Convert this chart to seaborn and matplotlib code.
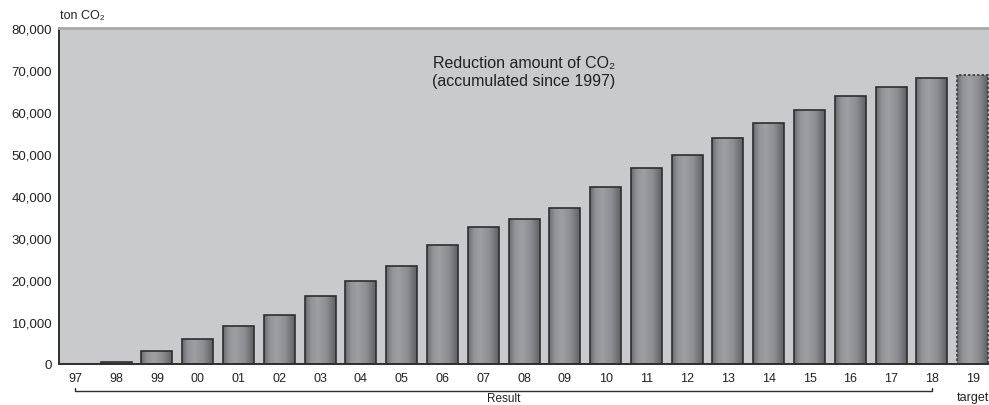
import numpy as np
import matplotlib
matplotlib.use("Agg")
import matplotlib.pyplot as plt
from matplotlib.colors import LinearSegmentedColormap
from matplotlib.ticker import FixedLocator, FuncFormatter
import seaborn as sns

# cumulative CO2 reduction, ton CO2 (19 = target)
years = ["97", "98", "99", "00", "01", "02", "03", "04", "05", "06", "07",
         "08", "09", "10", "11", "12", "13", "14", "15", "16", "17", "18", "19"]
reduction = [0, 500, 3200, 5900, 9000, 11700, 16200, 19700, 23300, 28300,
             32700, 34500, 37200, 42100, 46600, 49800, 53800, 57300, 60500,
             63700, 66000, 68100, 68700]
y_ticks = [0, 10000, 20000, 30000, 40000, 50000, 60000, 70000, 80000]

sns.set_style("white")
plt.rcParams["font.family"] = ["Liberation Sans", "DejaVu Sans"]

fig = plt.figure(figsize=(9.89, 4.06), dpi=100)
ax = fig.add_axes([0.0597, 0.101, 0.9403, 0.828])
ax.set_facecolor("#c9cacc")

sns.barplot(
    x=years,
    y=reduction,
    order=years,
    color="#8e8f93",
    edgecolor="#2e2e30",
    linewidth=1.2,
    width=0.76,
    ax=ax
)

# cylinder-like shading inside every bar
shade = LinearSegmentedColormap.from_list(
    "shade",
    [(0.0, "#6a6b6f"), (0.18, "#929397"), (0.4, "#9e9fa3"),
     (0.7, "#8d8e92"), (1.0, "#606165")]
)
grad = np.linspace(0, 1, 64).reshape(1, -1)
bars = list(ax.patches)
for i, p in enumerate(bars):
    if p.get_height() <= 0:
        p.set_linewidth(0)
        continue
    x0 = p.get_x()
    im = ax.imshow(
        grad,
        cmap=shade,
        aspect="auto",
        extent=[x0, x0 + p.get_width(), 0, p.get_height()],
        zorder=p.get_zorder() + 0.1,
        interpolation="bilinear"
    )
    im.set_clip_path(p)
    p.set_facecolor("none")
    p.set_zorder(p.get_zorder() + 0.2)

# target bar drawn with dotted outline
bars[-1].set_linestyle((0, (1.5, 1.2)))
bars[-1].set_edgecolor("#3a3a3c")

ax.set_xlim(-0.4, len(years) - 0.6)
ax.set_ylim(0, 80000)
ax.set_yticks(y_ticks)
ax.yaxis.set_major_formatter(FuncFormatter(lambda v, _: f"{int(v):,}"))
ax.tick_params(axis="y", direction="in", length=4, width=1,
               color="#2e2e30", labelsize=9.5, pad=5, labelcolor="#222222")
ax.tick_params(axis="x", which="major", length=0, labelsize=9,
               pad=6, labelcolor="#222222")
ax.xaxis.set_minor_locator(FixedLocator(np.arange(0.5, len(years) - 1, 1)))
ax.tick_params(axis="x", which="minor", direction="in", length=3,
               width=1, color="#2e2e30")
ax.set_xlabel("")
ax.set_ylabel("")

for side in ["left", "bottom"]:
    ax.spines[side].set_color("#2e2e30")
    ax.spines[side].set_linewidth(1.4)
ax.spines["top"].set_color("#a8a9ab")
ax.spines["top"].set_linewidth(2)
ax.spines["right"].set_visible(False)

# unit label
ax.text(0.001, 1.02, "ton CO\u2082", transform=ax.transAxes,
        fontsize=9, color="#222222", ha="left", va="bottom")

# title inside plot
ax.text(0.5, 0.92, "Reduction amount of CO\u2082\n(accumulated since 1997)",
        transform=ax.transAxes, ha="center", va="top",
        fontsize=11.5, color="#222222", linespacing=1.3)

# "Result" bracket under 97-18
trans = ax.get_xaxis_transform()
x_first, x_last = 0, len(years) - 2
ax.plot([x_first, x_first, x_last, x_last], [-0.070, -0.079, -0.079, -0.070],
        transform=trans, color="#2e2e30", lw=1, clip_on=False)
ax.text((x_first + x_last) / 2, -0.100, "Result", transform=trans,
        ha="center", va="center", fontsize=8.5, color="#222222")
ax.text(len(years) - 1, -0.097, "target", transform=trans,
        ha="center", va="center", fontsize=9, color="#222222")

fig.savefig("out.png", dpi=100)
